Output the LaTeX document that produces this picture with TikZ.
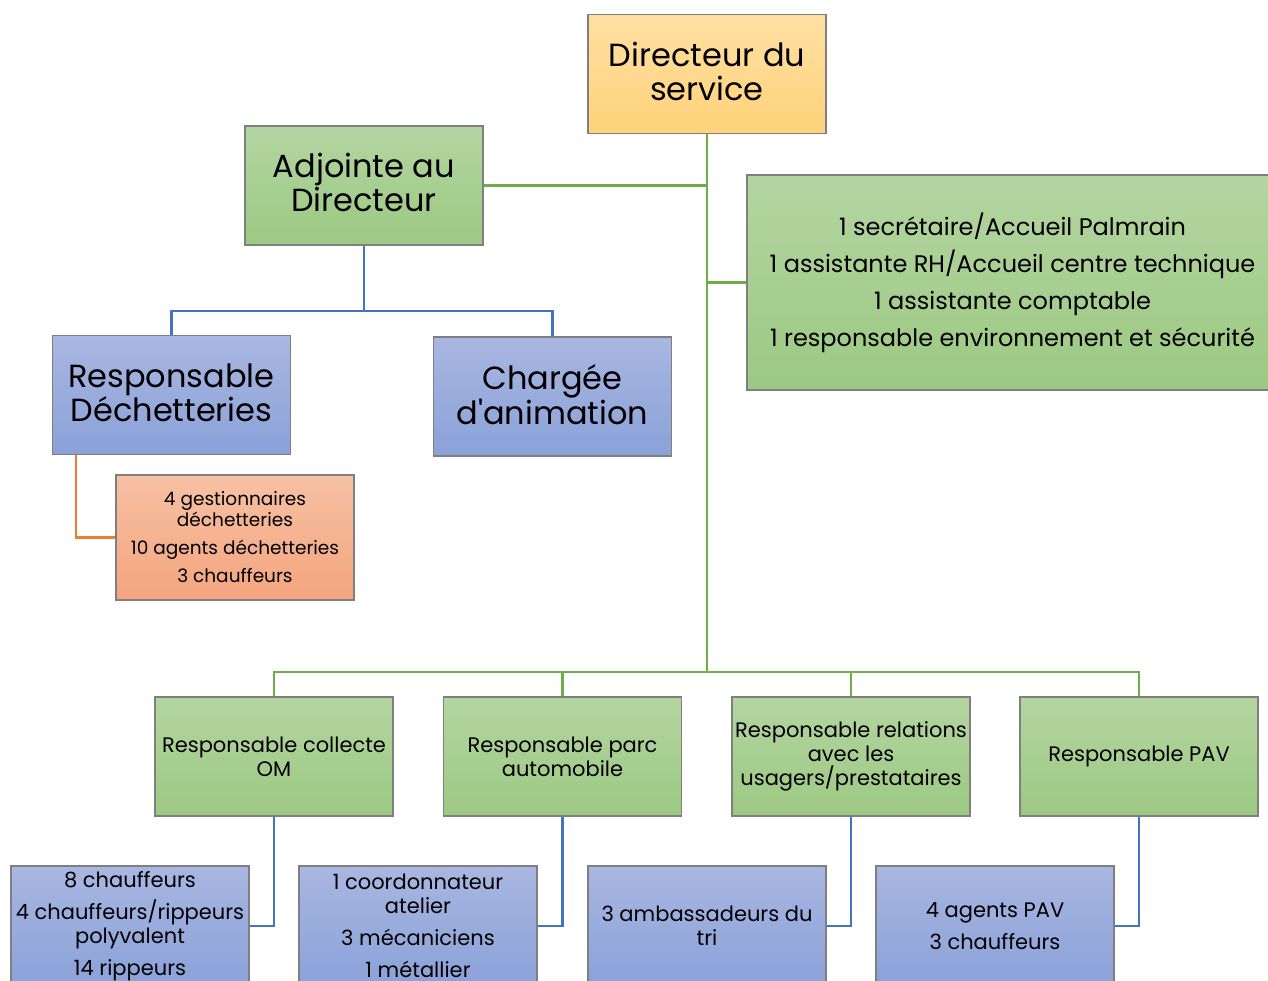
\documentclass[tikz,border=0pt]{standalone}
\usepackage{fontspec}
\setmainfont{Poppins}[Ligatures=TeXOff]
\definecolor{gline}{HTML}{70AD47}
\definecolor{bline}{HTML}{4472C4}
\definecolor{oline}{HTML}{ED7D31}
\definecolor{bord}{HTML}{7F7F7F}
\definecolor{gtop}{HTML}{B4D5A2}
\definecolor{gbot}{HTML}{9CC982}
\definecolor{btop}{HTML}{A9B7E1}
\definecolor{bbot}{HTML}{8AA1D8}
\definecolor{otop}{HTML}{F7C1A4}
\definecolor{obot}{HTML}{F4A47E}
\definecolor{ytop}{HTML}{FFE0A3}
\definecolor{ybot}{HTML}{FFD27A}
\tikzset{
  box/.style={draw=bord, line width=1.2pt, minimum width=238pt, minimum height=119pt, align=center, inner sep=0pt, text=black},
  gbox/.style={box, top color=gtop, bottom color=gbot},
  bbox/.style={box, top color=btop, bottom color=bbot},
  obox/.style={box, top color=otop, bottom color=obot},
  ybox/.style={box, top color=ytop, bottom color=ybot},
  glink/.style={draw=gline, line width=2.8pt},
  blink/.style={draw=bline, line width=2.8pt},
  olink/.style={draw=oline, line width=2.8pt},
  big/.style={font=\fontsize{32}{34}\selectfont},
  mid/.style={font=\fontsize{24}{28}\selectfont},
  sml/.style={font=\fontsize{21}{24}\selectfont},
  tiny/.style={font=\fontsize{18.5}{21}\selectfont},
}
\begin{document}
\begin{tikzpicture}[x=1pt,y=-1pt]
\useasboundingbox (0,0) rectangle (1268,981);
\clip (0,0) rectangle (1268,981);
\node[ybox, big] (dir) at (707,74) {Directeur du\\service\\[-28pt]};
\node[gbox, big] (adj) at (364,185.5) {Adjointe au\\Directeur\\[-28pt]};
\node[gbox, mid, minimum width=531pt, minimum height=215pt] (staff) at (1012.5,282.5) {1 secrétaire/Accueil Palmrain\\[9pt]1 assistante RH/Accueil centre technique\\[9pt]1 assistante comptable\\[9pt]1 responsable environnement et sécurité};
\node[bbox, big] (rd) at (171.5,395) {Responsable\\Déchetteries\\[-30pt]};
\node[bbox, big] (ch) at (552.5,396.5) {Chargée\\d'animation\\[-30pt]};
\node[obox, tiny, minimum height=125pt] (od) at (235,537.5) {4 gestionnaires\\déchetteries\\[7pt]10 agents déchetteries\\[7pt]3 chauffeurs};
\node[gbox, sml] (rc) at (274,756.5) {Responsable collecte\\OM};
\node[gbox, sml] (rp) at (562.5,756.5) {Responsable parc\\automobile};
\node[gbox, sml] (rr) at (851,756.5) {Responsable relations\\avec les\\usagers/prestataires};
\node[gbox, sml] (rv) at (1139,756.5) {Responsable PAV};
\node[bbox, sml, minimum height=120pt] (c1) at (130,926) {8 chauffeurs\\[8pt]4 chauffeurs/rippeurs\\polyvalent\\[8pt]14 rippeurs};
\node[bbox, sml, minimum height=120pt] (c2) at (418,926) {1 coordonnateur\\atelier\\[8pt]3 mécaniciens\\[8pt]1 métallier};
\node[bbox, sml, minimum height=120pt] (c3) at (707,926) {3 ambassadeurs du\\tri};
\node[bbox, sml, minimum height=120pt] (c4) at (995,926) {4 agents PAV\\[8pt]3 chauffeurs};
\coordinate (hub) at (707,672);
% green connectors
\draw[glink] (dir.south) -- (hub);
\draw[glink] (adj.east) -- (adj.east -| dir.south);
\draw[glink] (staff.west) -- (staff.west -| dir.south);
\draw[glink] (rc.north) |- (hub);
\draw[glink] (rv.north) |- (hub);
\draw[glink] (rp.north) -- (rp.north |- hub);
\draw[glink] (rr.north) -- (rr.north |- hub);
% blue connectors
\coordinate (bj) at (364,311);
\draw[blink] (adj.south) -- (bj);
\draw[blink] (bj) -| (rd.north);
\draw[blink] (bj) -| (ch.north);
\draw[blink] (rc.south) |- (c1.east);
\draw[blink] (rp.south) |- (c2.east);
\draw[blink] (rr.south) |- (c3.east);
\draw[blink] (rv.south) |- (c4.east);
% orange
\draw[olink] ([xshift=24pt]rd.south west) |- (od.west);
\end{tikzpicture}
\end{document}
